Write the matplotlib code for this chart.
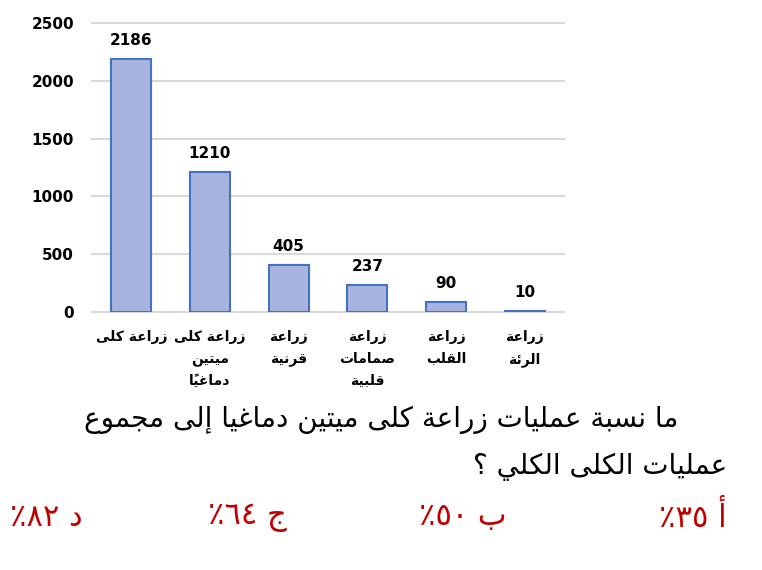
# Bar chart of transplant operations with an Arabic quiz question below it.
import matplotlib
matplotlib.use('Agg')
import matplotlib.pyplot as plt

categories = ['زراعة كلى', 'زراعة كلى\nميتين\nدماغياً', 'زراعة\nقرنية',
              'زراعة\nصمامات\nقلبية', 'زراعة\nالقلب', 'زراعة\nالرئة']
values = [2186, 1210, 405, 237, 90, 10]
y_ticks = [0, 500, 1000, 1500, 2000, 2500]
question = ['ما نسبة عمليات زراعة كلى ميتين دماغيا إلى مجموع',
            'عمليات الكلى الكلي ؟']
answers = ['أ ٣٥٪', 'ب ٥٠٪', 'ج ٦٤٪', 'د ٨٢٪']

# matplotlib has no Arabic shaping: map letters to presentation forms
# (isolated, final, initial, medial) and put the line in visual order.
FOUR = {'ئ': 0xFE89, 'ب': 0xFE8F, 'ت': 0xFE95, 'ث': 0xFE99, 'ج': 0xFE9D,
        'ح': 0xFEA1, 'خ': 0xFEA5, 'س': 0xFEB1, 'ش': 0xFEB5, 'ص': 0xFEB9,
        'ض': 0xFEBD, 'ط': 0xFEC1, 'ظ': 0xFEC5, 'ع': 0xFEC9, 'غ': 0xFECD,
        'ف': 0xFED1, 'ق': 0xFED5, 'ك': 0xFED9, 'ل': 0xFEDD, 'م': 0xFEE1,
        'ن': 0xFEE5, 'ه': 0xFEE9, 'ي': 0xFEF1}
TWO = {'آ': 0xFE81, 'أ': 0xFE83, 'ؤ': 0xFE85, 'إ': 0xFE87, 'ا': 0xFE8D,
       'ة': 0xFE93, 'د': 0xFEA9, 'ذ': 0xFEAB, 'ر': 0xFEAD, 'ز': 0xFEAF,
       'و': 0xFEED, 'ى': 0xFEEF}
MARKS = set(chr(c) for c in range(0x064B, 0x0653))
DIGITS = set('0123456789٠١٢٣٤٥٦٧٨٩')


def shape_line(s):
    n = len(s)

    def base_at(i, step):
        j = i + step
        while 0 <= j < n and s[j] in MARKS:
            j += step
        return s[j] if 0 <= j < n else ''

    out = []
    for i, c in enumerate(s):
        if c in FOUR or c in TWO:
            code = FOUR.get(c, TWO.get(c))
            p = base_at(i, -1) in FOUR
            nx = c in FOUR and (base_at(i, 1) in FOUR or base_at(i, 1) in TWO)
            off = 3 if (p and nx) else 1 if p else 2 if nx else 0
            out.append(chr(code + off))
        else:
            out.append(c)
    tokens = []
    for c in out:
        if c in MARKS and tokens:
            tokens[-1] += c
        elif c in DIGITS and tokens and tokens[-1][0] in DIGITS:
            tokens[-1] += c
        else:
            tokens.append(c)
    return ''.join(reversed(tokens))


def shape(s):
    return '\n'.join(shape_line(line) for line in s.split('\n'))


plt.rcParams['font.family'] = ['DejaVu Sans']

fig = plt.figure(figsize=(7.62, 5.7), dpi=100)
ax = fig.add_axes([0.1207, 0.4526, 0.6194, 0.5070])

x = list(range(len(values)))
ax.bar(x, values, width=0.51, color='#A8B4DF', edgecolor='#4472C4',
       linewidth=1.5, zorder=3)
ax.set_ylim(0, 2500)
ax.set_xlim(-0.5, len(values) - 0.5)
ax.set_yticks(y_ticks)
ax.set_yticklabels([str(t) for t in y_ticks], fontweight='bold', fontsize=11)
ax.set_xticks(x)
ax.set_xticklabels([shape(c) for c in categories], fontweight='bold',
                   fontsize=10, linespacing=1.7)
for t in ax.get_xticklabels():
    t.set_multialignment('center')
ax.tick_params(length=0)
ax.tick_params(axis='y', pad=13)
ax.tick_params(axis='x', pad=13)
ax.grid(axis='y', color='#D9D9D9', linewidth=1.5, clip_on=False)
ax.set_axisbelow(True)
for sp in ax.spines.values():
    sp.set_visible(False)

for xi, v in zip(x, values):
    ax.annotate(str(v), (xi, v), xytext=(0, 8), textcoords='offset points',
                ha='center', va='bottom', fontweight='bold', fontsize=11)

# question lines, right aligned
fig.text(678 / 762, 1 - 420 / 570, shape(question[0]), ha='right',
         va='center', fontsize=20)
fig.text(727 / 762, 1 - 467 / 570, shape(question[1]), ha='right',
         va='center', fontsize=20)

# answer choices, right to left
right_edges = [727, 507, 287, 83]
for ans, xr in zip(answers, right_edges):
    fig.text(xr / 762, 1 - 517 / 570, shape(ans), ha='right', va='center',
             fontsize=22, color='#C00000')

fig.savefig('out.png', dpi=100)
